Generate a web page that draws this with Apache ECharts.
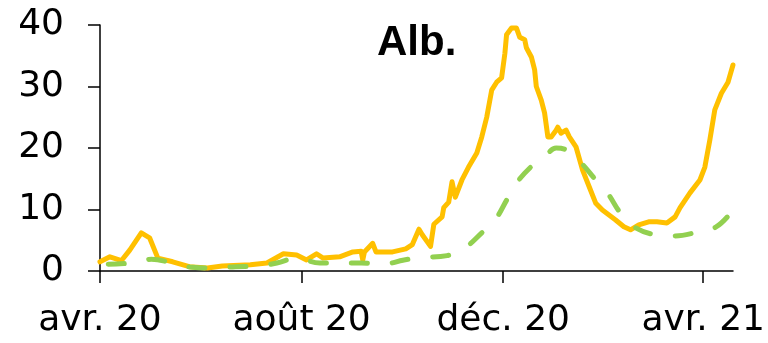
<!DOCTYPE html>
<html>
<head>
<meta charset="utf-8">
<script src="https://cdn.jsdelivr.net/npm/echarts@6/dist/echarts.min.js"></script>
<style>html,body{margin:0;padding:0;background:#fff}#c{width:768px;height:343px}</style>
</head>
<body>
<div id="c"></div>
<script>
// Orange (solid) series: dates and values
var orangeDates = ['2020-04-01','2020-04-07','2020-04-14','2020-04-19','2020-04-26','2020-05-01','2020-05-06','2020-05-15','2020-05-25','2020-06-05','2020-06-14','2020-07-01','2020-07-11','2020-07-21','2020-07-29','2020-08-04','2020-08-10','2020-08-14','2020-08-24','2020-09-01','2020-09-06','2020-09-07','2020-09-08','2020-09-13','2020-09-15','2020-09-25','2020-10-03','2020-10-07','2020-10-11','2020-10-13','2020-10-18','2020-10-20','2020-10-25','2020-10-26','2020-10-29','2020-10-31','2020-11-02','2020-11-06','2020-11-10','2020-11-15','2020-11-18','2020-11-21','2020-11-24','2020-11-27','2020-11-30','2020-12-02','2020-12-03','2020-12-06','2020-12-09','2020-12-11','2020-12-14','2020-12-15','2020-12-18','2020-12-20','2020-12-21','2020-12-24','2020-12-26','2020-12-28','2020-12-30','2021-01-02','2021-01-03','2021-01-05','2021-01-08','2021-01-10','2021-01-14','2021-01-18','2021-01-22','2021-01-26','2021-01-30','2021-02-03','2021-02-07','2021-02-12','2021-02-16','2021-02-21','2021-02-27','2021-03-04','2021-03-10','2021-03-15','2021-03-18','2021-03-24','2021-03-30','2021-04-02','2021-04-05','2021-04-08','2021-04-12','2021-04-16','2021-04-19'];
var orangeValues = [1.5,2.3,1.7,3.4,6.2,5.4,2.1,1.5,0.7,0.5,0.8,1.0,1.3,2.8,2.6,1.8,2.8,2.1,2.3,3.1,3.2,1.8,3.1,4.5,3.1,3.1,3.6,4.3,6.8,5.9,4.0,7.6,8.8,10.3,11.2,14.5,12.0,14.8,16.9,19.2,21.8,25.0,29.4,30.7,31.4,35.4,38.4,39.5,39.5,38.0,37.6,36.3,34.8,32.7,30.0,27.8,25.7,21.8,21.8,22.9,23.4,22.4,22.9,21.8,20.2,16.4,13.7,11.0,9.9,9.1,8.3,7.2,6.7,7.5,8.0,8.0,7.8,8.8,10.3,12.7,14.8,16.9,21.3,26.2,28.9,30.7,33.5];

// Green (dashed) series: dates and values
var greenDates = ['2020-04-06','2020-04-20','2020-05-02','2020-05-15','2020-05-27','2020-06-09','2020-06-22','2020-07-05','2020-07-17','2020-07-29','2020-08-12','2020-08-24','2020-09-06','2020-09-19','2020-10-02','2020-10-13','2020-10-28','2020-11-07','2020-11-18','2020-11-26','2020-12-03','2020-12-09','2020-12-18','2020-12-27','2021-01-02','2021-01-08','2021-01-17','2021-01-26','2021-02-02','2021-02-10','2021-02-18','2021-03-03','2021-03-15','2021-03-28','2021-04-09','2021-04-19'];
var greenValues = [1.1,1.3,1.9,1.3,0.6,0.5,0.7,0.8,1.3,2.1,1.3,1.3,1.3,1.1,1.8,2.2,2.5,3.6,6.2,8.3,11.5,14.3,17.0,18.9,20.0,19.7,17.6,14.8,12.7,9.4,7.2,5.9,5.7,6.3,7.2,9.9];

// Axis ticks / labels
var xStartDate = '2020-04-01';
var xEndDate = '2021-04-19';
var xTickDates = ['2020-04-01','2020-08-01','2020-12-01','2021-04-01'];
var xTickLabels = ['avr. 20','août 20','déc. 20','avr. 21'];
var yTicks = [0, 10, 20, 30, 40];
var titleText = 'Alb.';

var DAY = 86400000;
function dayNum(s){ var p = s.split('-'); return Math.round((Date.UTC(+p[0], +p[1]-1, +p[2]) - Date.UTC(2020,3,1)) / DAY); }
var xTickDays = xTickDates.map(dayNum);
function pairs(d, v){ return d.map(function(s,i){ return [dayNum(s), v[i]]; }); }

var chart = echarts.init(document.getElementById('c'), null, {renderer:'canvas'});
chart.setOption({
  animation: false,
  backgroundColor: '#ffffff',
  title: {
    text: titleText,
    left: 372, top: 17,
    textStyle: {fontFamily: 'Liberation Sans', fontWeight: 'bold', fontSize: 42, color: '#000'}
  },
  grid: {left: 100, right: 31, top: 25, bottom: 72, containLabel: false},
  xAxis: {
    type: 'value',
    min: dayNum(xStartDate),
    max: dayNum(xEndDate),
    axisLine: {show: true, onZero: false, lineStyle: {color: '#000', width: 1.5}},
    axisTick: {show: true, inside: false, length: 12, lineStyle: {color: '#000', width: 1.5}, customValues: xTickDays},
    axisLabel: {
      customValues: xTickDays,
      margin: 32,
      fontFamily: 'DejaVu Sans', fontSize: 36, color: '#000',
      formatter: function(v){
        var i = xTickDays.indexOf(Math.round(v));
        return i >= 0 ? xTickLabels[i] : '';
      },
      showMinLabel: true, showMaxLabel: true, hideOverlap: false
    },
    splitLine: {show: false}
  },
  yAxis: {
    type: 'value',
    min: yTicks[0], max: yTicks[yTicks.length-1], interval: 10,
    axisLine: {show: true, lineStyle: {color: '#000', width: 1.5}},
    axisTick: {show: true, inside: false, length: 12, lineStyle: {color: '#000', width: 1.5}},
    axisLabel: {margin: 36, fontFamily: 'DejaVu Sans', fontSize: 36, color: '#000'},
    splitLine: {show: false}
  },
  series: [
    {
      type: 'line', name: 'orange',
      data: pairs(orangeDates, orangeValues),
      showSymbol: false, symbol: 'none',
      lineStyle: {color: '#FFC000', width: 5, join: 'round', cap: 'round'},
      z: 3
    },
    {
      type: 'line', name: 'green',
      data: pairs(greenDates, greenValues),
      showSymbol: false, symbol: 'none', smooth: 0.4,
      lineStyle: {color: '#92D050', width: 5, type: [16, 25], cap: 'round'},
      z: 4
    }
  ]
});
</script>
</body>
</html>
